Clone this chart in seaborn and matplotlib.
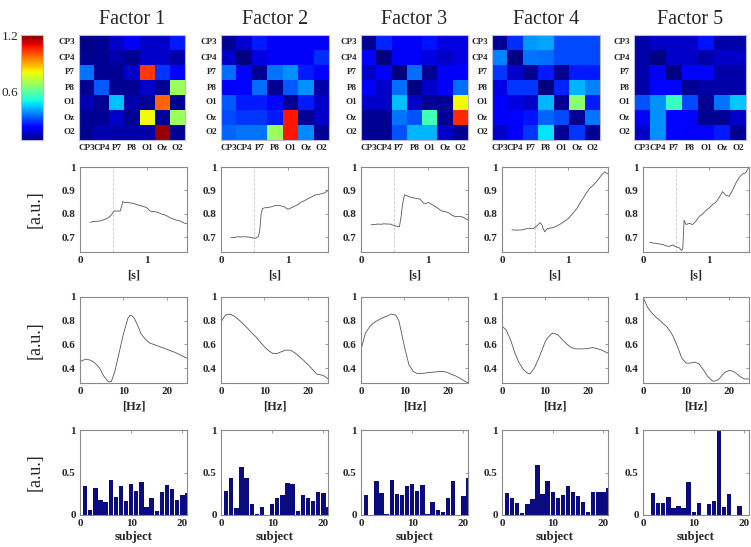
import numpy as np
import pandas as pd
import matplotlib
matplotlib.use("Agg")
import matplotlib.pyplot as plt
import seaborn as sns
from matplotlib.cm import ScalarMappable
from matplotlib.colors import Normalize

# ---------------- data ----------------
factors = ["Factor 1", "Factor 2", "Factor 3", "Factor 4", "Factor 5"]
channels = ["CP3", "CP4", "P7", "P8", "O1", "Oz", "O2"]

conn_f1 = [[0.09, 0.10, 0.15, 0.20, 0.15, 0.15, 0.25],
           [0.10, 0.10, 0.12, 0.10, 0.15, 0.15, 0.12],
           [0.35, 0.10, 0.10, 0.15, 1.03, 0.28, 0.22],
           [0.10, 0.32, 0.10, 0.10, 0.15, 0.10, 0.68],
           [0.13, 0.10, 0.43, 0.12, 0.10, 0.98, 0.10],
           [0.10, 0.10, 0.15, 0.10, 0.80, 0.10, 0.68],
           [0.10, 0.13, 0.12, 0.12, 0.12, 1.17, 0.10]]
conn_f2 = [[0.10, 0.16, 0.25, 0.20, 0.20, 0.20, 0.20],
           [0.15, 0.08, 0.18, 0.20, 0.20, 0.20, 0.27],
           [0.34, 0.22, 0.10, 0.35, 0.38, 0.25, 0.22],
           [0.20, 0.22, 0.34, 0.10, 0.32, 0.38, 0.12],
           [0.32, 0.25, 0.25, 0.22, 0.10, 0.25, 0.15],
           [0.30, 0.28, 0.28, 0.25, 1.07, 0.10, 0.15],
           [0.33, 0.35, 0.35, 0.68, 1.07, 0.37, 0.10]]
conn_f3 = [[0.10, 0.26, 0.20, 0.20, 0.24, 0.18, 0.18],
           [0.22, 0.08, 0.20, 0.20, 0.18, 0.15, 0.18],
           [0.15, 0.20, 0.08, 0.34, 0.10, 0.20, 0.20],
           [0.20, 0.15, 0.34, 0.08, 0.15, 0.20, 0.34],
           [0.15, 0.15, 0.43, 0.15, 0.10, 0.10, 0.80],
           [0.10, 0.10, 0.35, 0.31, 0.56, 0.10, 1.05],
           [0.10, 0.10, 0.31, 0.42, 0.42, 0.15, 0.10]]
conn_f4 = [[0.10, 0.27, 0.39, 0.40, 0.30, 0.30, 0.30],
           [0.36, 0.08, 0.35, 0.34, 0.30, 0.30, 0.30],
           [0.28, 0.15, 0.10, 0.25, 0.10, 0.25, 0.25],
           [0.18, 0.28, 0.28, 0.08, 0.26, 0.42, 0.36],
           [0.20, 0.18, 0.15, 0.42, 0.10, 0.66, 0.25],
           [0.20, 0.22, 0.24, 0.33, 0.30, 0.10, 0.35],
           [0.15, 0.20, 0.28, 0.47, 0.10, 0.28, 0.10]]
conn_f5 = [[0.12, 0.15, 0.15, 0.15, 0.24, 0.12, 0.12],
           [0.12, 0.08, 0.15, 0.15, 0.12, 0.15, 0.15],
           [0.12, 0.20, 0.08, 0.22, 0.22, 0.12, 0.12],
           [0.12, 0.22, 0.22, 0.10, 0.12, 0.12, 0.12],
           [0.31, 0.38, 0.55, 0.30, 0.10, 0.35, 0.44],
           [0.20, 0.38, 0.22, 0.22, 0.10, 0.10, 0.15],
           [0.15, 0.38, 0.22, 0.20, 0.22, 0.25, 0.10]]
conn_all = [conn_f1, conn_f2, conn_f3, conn_f4, conn_f5]
cbar_ticks = [0.6, 1.2]

# temporal signatures (time [s], amplitude)
t_f1 = [0.15, 0.2, 0.3, 0.35, 0.4, 0.45, 0.48, 0.5, 0.52, 0.6, 0.62, 0.64, 0.67, 0.7, 0.75, 0.8,
        0.85, 0.9, 0.97, 1.0, 1.05, 1.1, 1.15, 1.22, 1.28, 1.34, 1.4, 1.44, 1.5, 1.55, 1.6]
v_f1 = [0.764, 0.768, 0.77, 0.775, 0.78, 0.79, 0.80, 0.81, 0.813, 0.812, 0.83, 0.853, 0.848, 0.85,
        0.847, 0.845, 0.84, 0.836, 0.83, 0.826, 0.812, 0.81, 0.808, 0.80, 0.795, 0.785, 0.778,
        0.774, 0.77, 0.762, 0.758]
t_f2 = [0.15, 0.2, 0.25, 0.3, 0.35, 0.4, 0.45, 0.5, 0.53, 0.56, 0.58, 0.6, 0.62, 0.65, 0.7, 0.75,
        0.8, 0.85, 0.9, 0.95, 1.0, 1.05, 1.1, 1.15, 1.2, 1.25, 1.3, 1.35, 1.4, 1.45, 1.5, 1.55, 1.6]
v_f2 = [0.70, 0.70, 0.703, 0.702, 0.703, 0.702, 0.70, 0.696, 0.698, 0.705, 0.73, 0.80, 0.823,
        0.826, 0.828, 0.83, 0.835, 0.837, 0.834, 0.83, 0.82, 0.826, 0.833, 0.84, 0.851, 0.857,
        0.865, 0.872, 0.88, 0.883, 0.886, 0.89, 0.90]
t_f3 = [0.15, 0.2, 0.25, 0.3, 0.335, 0.4, 0.435, 0.47, 0.51, 0.55, 0.575, 0.6, 0.62, 0.65, 0.68,
        0.71, 0.76, 0.81, 0.885, 0.935, 0.97, 1.01, 1.06, 1.11, 1.16, 1.21, 1.26, 1.31, 1.36,
        1.41, 1.46, 1.51, 1.55, 1.6]
v_f3 = [0.754, 0.755, 0.757, 0.756, 0.758, 0.757, 0.757, 0.753, 0.749, 0.747, 0.746, 0.79, 0.84,
        0.881, 0.879, 0.874, 0.87, 0.867, 0.863, 0.846, 0.845, 0.849, 0.84, 0.832, 0.822, 0.812,
        0.81, 0.805, 0.795, 0.788, 0.79, 0.788, 0.782, 0.774]
t_f4 = [0.15, 0.2, 0.3, 0.4, 0.475, 0.525, 0.575, 0.6, 0.615, 0.645, 0.685, 0.775, 0.875, 1.0,
        1.06, 1.125, 1.175, 1.225, 1.275, 1.325, 1.375, 1.425, 1.5, 1.55, 1.6]
v_f4 = [0.733, 0.731, 0.732, 0.739, 0.738, 0.749, 0.763, 0.755, 0.742, 0.724, 0.738, 0.742,
        0.756, 0.78, 0.80, 0.821, 0.845, 0.867, 0.89, 0.909, 0.922, 0.937, 0.965, 0.979, 0.97]
t_f5 = [0.1, 0.15, 0.2, 0.25, 0.3, 0.35, 0.4, 0.45, 0.5, 0.55, 0.58, 0.6, 0.62, 0.65, 0.7, 0.75,
        0.8, 0.85, 0.9, 0.95, 1.0, 1.05, 1.1, 1.15, 1.2, 1.25, 1.3, 1.35, 1.4, 1.45, 1.5, 1.55, 1.6]
v_f5 = [0.68, 0.676, 0.675, 0.672, 0.67, 0.664, 0.662, 0.668, 0.66, 0.655, 0.645, 0.65, 0.773,
        0.755, 0.76, 0.755, 0.77, 0.79, 0.80, 0.815, 0.826, 0.84, 0.85, 0.87, 0.895, 0.88, 0.875,
        0.90, 0.93, 0.955, 0.97, 0.975, 1.0]
time_all = [(t_f1, v_f1), (t_f2, v_f2), (t_f3, v_f3), (t_f4, v_f4), (t_f5, v_f5)]

# spectral signatures (frequency [Hz], amplitude)
f_f1 = [0, 1, 1.5, 2.5, 3.5, 4.5, 5.5, 6.5, 7.2, 8, 9, 10, 11, 11.5, 12, 12.5, 13.5, 14, 15, 16,
        18, 20, 22, 24.6]
s_f1 = [0.455, 0.47, 0.476, 0.465, 0.44, 0.40, 0.33, 0.285, 0.286, 0.37, 0.53, 0.69, 0.82, 0.845,
        0.84, 0.82, 0.74, 0.69, 0.645, 0.612, 0.585, 0.558, 0.53, 0.483]
f_f2 = [0, 1, 2, 3, 4, 5, 6, 7, 8, 9, 10, 11, 12, 13, 14, 15, 16, 17, 18, 19, 20, 21, 22, 23.5,
        24.6]
s_f2 = [0.79, 0.847, 0.856, 0.84, 0.81, 0.777, 0.74, 0.70, 0.665, 0.62, 0.58, 0.545, 0.522,
        0.524, 0.54, 0.552, 0.55, 0.528, 0.497, 0.465, 0.43, 0.39, 0.35, 0.338, 0.31]
f_f3 = [0, 1, 2, 3, 4, 5, 6, 7, 8, 8.7, 9, 10, 11, 12, 13, 14, 16, 18, 19, 20, 21, 22, 23, 24.6]
s_f3 = [0.554, 0.694, 0.75, 0.785, 0.806, 0.825, 0.84, 0.856, 0.847, 0.80, 0.75, 0.58, 0.43,
        0.372, 0.352, 0.355, 0.364, 0.37, 0.372, 0.36, 0.344, 0.33, 0.308, 0.274]
f_f4 = [0, 1, 2, 3, 4, 5, 6, 6.5, 7.5, 8.5, 9, 10, 10.5, 11.5, 12, 13, 14, 15, 16, 17, 19, 20,
        21, 22, 23, 24.6]
s_f4 = [0.755, 0.72, 0.638, 0.526, 0.442, 0.386, 0.355, 0.352, 0.40, 0.48, 0.526, 0.62, 0.652,
        0.69, 0.694, 0.68, 0.64, 0.604, 0.575, 0.562, 0.562, 0.566, 0.573, 0.565, 0.554, 0.526]
f_f5 = [0, 1, 2, 3, 4, 5, 5.5, 6.5, 7, 8, 9, 10, 11, 12, 13, 14, 15, 16, 16.5, 17.5, 18.5, 19,
        20, 21, 22, 22.5, 23.5, 24.6]
s_f5 = [1.0, 0.917, 0.867, 0.83, 0.80, 0.765, 0.75, 0.70, 0.666, 0.582, 0.484, 0.442, 0.442,
        0.45, 0.436, 0.386, 0.33, 0.295, 0.288, 0.302, 0.345, 0.364, 0.38, 0.372, 0.345, 0.33,
        0.308, 0.308]
freq_all = [(f_f1, s_f1), (f_f2, s_f2), (f_f3, s_f3), (f_f4, s_f4), (f_f5, s_f5)]

# subject signatures
subjects = list(range(1, 22))
subj_f1 = [0.337, 0.054, 0.32, 0.174, 0.155, 0.415, 0.217, 0.345, 0.16, 0.364, 0.287, 0.39,
           0.097, 0.205, 0.047, 0.275, 0.349, 0.306, 0.182, 0.233, 0.256]
subj_f2 = [0.28, 0.44, 0.085, 0.56, 0.44, 0.125, 0.01, 0.09, 0.0, 0.125, 0.20, 0.23, 0.38, 0.36,
           0.05, 0.235, 0.20, 0.17, 0.275, 0.255, 0.10]
subj_f3 = [0.233, 0.0, 0.40, 0.264, 0.01, 0.415, 0.244, 0.236, 0.337, 0.364, 0.283, 0.357, 0.012,
           0.155, 0.058, 0.035, 0.205, 0.395, 0.0, 0.225, 0.434]
subj_f4 = [0.26, 0.205, 0.14, 0.027, 0.128, 0.194, 0.593, 0.244, 0.395, 0.267, 0.205, 0.236,
           0.337, 0.267, 0.225, 0.155, 0.035, 0.275, 0.275, 0.267, 0.314]
subj_f5 = [0.0, 0.264, 0.136, 0.136, 0.213, 0.078, 0.108, 0.078, 0.39, 0.035, 0.147, 0.0, 0.124,
           0.167, 1.0, 0.097, 0.244, 0.0, 0.108, 0.0, 0.0]
subj_all = [subj_f1, subj_f2, subj_f3, subj_f4, subj_f5]

# ---------------- style ----------------
sns.set_style("white")
plt.rcParams["font.family"] = ["Liberation Serif", "DejaVu Serif"]
plt.rcParams["font.weight"] = "bold"
plt.rcParams["xtick.direction"] = "in"
plt.rcParams["ytick.direction"] = "in"

W, H = 751, 547
fig = plt.figure(figsize=(W / 100, H / 100), dpi=100)


def rect(x0, x1, y0, y1):
    return [x0 / W, 1 - y1 / H, (x1 - x0) / W, (y1 - y0) / H]


heat_x = [(79, 185), (221, 329), (361, 468), (492, 600), (634, 746)]
col_x = [(80, 187), (221, 328), (361, 468), (502, 608), (643, 749)]
VMIN, VMAX = 0.08, 1.2
SPINE = "#8a8a8a"
TICK_FS = 8
XLAB_FS = 9
HEAT_FS = 6.5


def style_axes(ax):
    for s in ax.spines.values():
        s.set_visible(True)
        s.set_color(SPINE)
        s.set_linewidth(0.8)
    ax.tick_params(direction="in", length=2.5, width=0.6, color=SPINE, top=True, right=True,
                   labelsize=TICK_FS, pad=3)
    for lab in ax.get_xticklabels() + ax.get_yticklabels():
        lab.set_fontweight("bold")


for i in range(5):
    # ---- heatmap ----
    ax = fig.add_axes(rect(heat_x[i][0], heat_x[i][1], 35, 140))
    df = pd.DataFrame(conn_all[i], index=channels, columns=channels)
    sns.heatmap(df, ax=ax, cmap="jet", vmin=VMIN, vmax=VMAX, cbar=False,
                xticklabels=channels, yticklabels=channels)
    ax.tick_params(length=0, labelsize=HEAT_FS, pad=3)
    ax.set_yticklabels(channels, rotation=0, fontweight="bold", fontsize=HEAT_FS)
    ax.set_xticklabels(channels, rotation=0, fontweight="bold", fontsize=HEAT_FS)
    ax.set_xlabel("")
    ax.set_ylabel("")
    for s in ax.spines.values():
        s.set_visible(True)
        s.set_color("#b8b8d8")
        s.set_linewidth(0.8)
    ax.set_title(factors[i], fontsize=14.5, fontweight="normal", pad=8)

    # ---- temporal ----
    ax = fig.add_axes(rect(col_x[i][0], col_x[i][1], 167, 252))
    tt, vv = time_all[i]
    sns.lineplot(x=tt, y=vv, ax=ax, color="#555555", linewidth=0.6)
    ax.axvline(0.5, color="#c8c8c8", linestyle="--", linewidth=0.6, zorder=0)
    ax.set_xlim(0, 1.6)
    ax.set_ylim(0.638, 1.0)
    ax.set_xticks([0, 1])
    ax.set_xticklabels(["0", "1"])
    ax.set_yticks([0.7, 0.8, 0.9, 1.0])
    ax.set_yticklabels(["0.7", "0.8", "0.9", "1"])
    style_axes(ax)
    ax.set_xlabel("[s]", fontsize=XLAB_FS, fontweight="bold", labelpad=3)

    # ---- spectral ----
    ax = fig.add_axes(rect(col_x[i][0], col_x[i][1], 297, 383))
    ff, ss = freq_all[i]
    sns.lineplot(x=ff, y=ss, ax=ax, color="#555555", linewidth=0.6)
    ax.set_xlim(0, 24.6)
    ax.set_ylim(0.274, 1.0)
    ax.set_xticks([0, 10, 20])
    ax.set_yticks([0.4, 0.6, 0.8, 1.0])
    ax.set_yticklabels(["0.4", "0.6", "0.8", "1"])
    style_axes(ax)
    ax.set_xlabel("[Hz]", fontsize=XLAB_FS, fontweight="bold", labelpad=3)

    # ---- subjects ----
    ax = fig.add_axes(rect(col_x[i][0], col_x[i][1], 430, 515))
    sns.barplot(x=subjects, y=subj_all[i], ax=ax, native_scale=True, color="#0b0b80",
                saturation=1, width=0.85, errorbar=None, linewidth=0)
    ax.set_xlim(0, 20.9)
    ax.set_ylim(0, 1.0)
    ax.set_xticks([0, 10, 20])
    ax.set_xticklabels(["0", "10", "20"])
    ax.set_yticks([0, 0.5, 1.0])
    ax.set_yticklabels(["0", "0.5", "1"])
    style_axes(ax)
    ax.set_xlabel("subject", fontsize=XLAB_FS, fontweight="bold", labelpad=2)

# y labels
for yc in [(167 + 252) / 2, (297 + 383) / 2, (430 + 515) / 2]:
    fig.text(35 / W, 1 - yc / H, "[a.u.]", rotation=90, ha="center", va="center",
             fontsize=13, fontweight="normal")

# colorbar
cax = fig.add_axes(rect(21, 43, 35, 140))
sm = ScalarMappable(norm=Normalize(VMIN, VMAX), cmap="jet")
cb = fig.colorbar(sm, cax=cax)
cb.outline.set_edgecolor("#b8b8d8")
cb.outline.set_linewidth(0.8)
cax.yaxis.set_ticks_position("left")
cax.set_yticks(cbar_ticks)
cax.set_yticklabels(["0.6", "1.2"])
cax.tick_params(length=2, width=0.6, color="#aaaaaa", labelsize=9.5, pad=2, direction="in")
for lab in cax.get_yticklabels():
    lab.set_fontweight("normal")

fig.savefig("out.png", dpi=100)
